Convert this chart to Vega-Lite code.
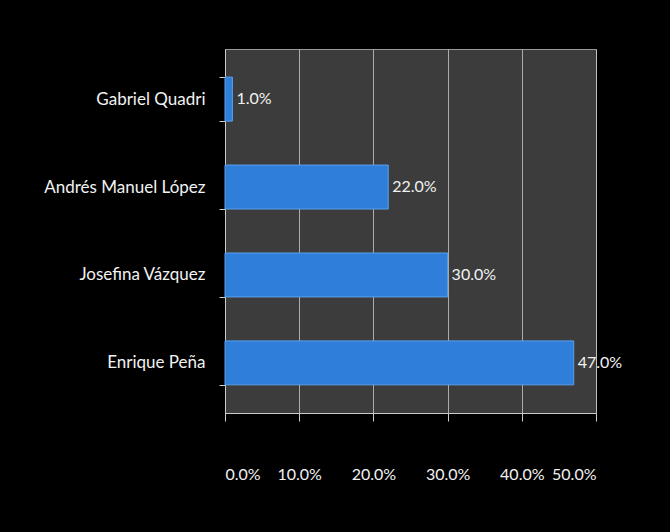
{
  "$schema": "https://vega.github.io/schema/vega-lite/v6.json",
  "autosize": {"type": "fit", "contains": "padding"},
  "width": 670,
  "height": 532,
  "background": "#000000",
  "padding": {"top": 40, "left": 43, "right": 65, "bottom": 50},
  "config": {
    "font": "Lato",
    "view": {"fill": "#3c3c3c", "stroke": "#9a9a9a", "strokeWidth": 1}
  },
  "data": {
    "values": [
      {"candidato": "Gabriel Quadri", "pct": 0.01},
      {"candidato": "Andrés Manuel López", "pct": 0.22},
      {"candidato": "Josefina Vázquez", "pct": 0.30},
      {"candidato": "Enrique Peña", "pct": 0.47}
    ]
  },
  "encoding": {
    "y": {
      "field": "candidato",
      "type": "nominal",
      "sort": null,
      "scale": {"paddingInner": 0.5, "paddingOuter": 0.32},
      "axis": {
        "title": null,
        "labelColor": "#f2f2f2",
        "labelFontSize": 17,
        "labelPadding": 14,
        "domainColor": "#cccccc",
        "tickColor": "#cccccc",
        "tickSize": 6,
        "tickBand": "extent",
        "ticks": true
      }
    },
    "x": {
      "field": "pct",
      "type": "quantitative",
      "scale": {"domain": [0, 0.5]},
      "axis": {
        "title": null,
        "format": ".1%",
        "values": [0, 0.1, 0.2, 0.3, 0.4, 0.5],
        "labelColor": "#f2f2f2",
        "labelFontSize": 16,
        "labelPadding": 45,
        "domainColor": "#cccccc",
        "tickColor": "#cccccc",
        "tickSize": 8,
        "gridColor": "#c8c8c8",
        "gridOpacity": 0.8
      }
    }
  },
  "layer": [
    {
      "mark": {"type": "bar", "color": "#2f7fda", "stroke": "#5aa0ee", "strokeWidth": 1}
    },
    {
      "mark": {"type": "text", "align": "left", "dx": 4, "fontSize": 16, "color": "#f2f2f2"},
      "encoding": {
        "text": {"field": "pct", "type": "quantitative", "format": ".1%"}
      }
    }
  ]
}
